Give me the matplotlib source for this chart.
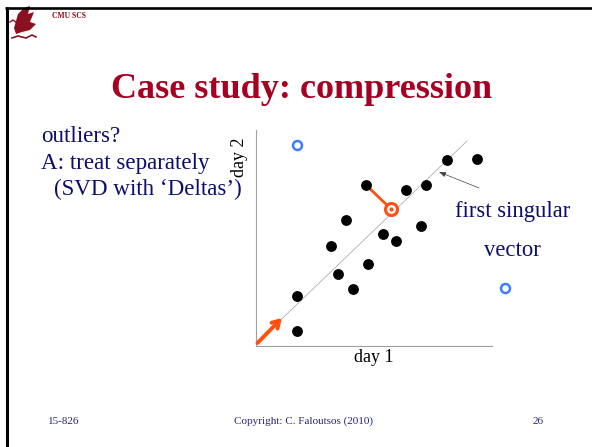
"""
    Case study: compression (slide)
"""
import matplotlib
matplotlib.use("Agg")
import matplotlib.pyplot as plt
import numpy as np

# puntos normales (day 1, day 2)
day1 = [41, 41, 97, 82, 112, 75, 127, 140, 165, 90, 150, 170, 110, 191, 221]
day2 = [15, 50, 57, 72, 82, 100, 112, 105, 120, 126, 156, 161, 161, 186, 187]

# outliers (azul)
out_x = [41, 249]
out_y = [201, 58]

# punto proyectado (naranja) y su delta
proj_x = [135]
proj_y = [137]
delta_x = [110, 135]
delta_y = [161, 137]

# primer vector singular
vec_x = [0.7, 211]
vec_y = [3, 205]

# flecha naranja (direccion) y flecha de la etiqueta
dir_start = (1.5, 3)
dir_end = (26, 28)
lbl_start = (223, 158)
lbl_end = (183, 174)

title = "Case study: compression"
bullets = ["outliers?", "A: treat separately", "(SVD with \u2018Deltas\u2019)"]
bullet_x = [41, 41, 54]
footer = ["15-826", "Copyright: C. Faloutsos (2010)", "26"]

W, H = 592, 447
serif = ["Liberation Serif", "DejaVu Serif"]
red = "#A50021"
navy = "#0D0D6B"
orange = "#FF5010"

fig = plt.figure(figsize=(W / 100, H / 100), dpi=100)

# capa de la diapositiva en pixeles
bg = fig.add_axes([0, 0, 1, 1])
bg.set_xlim(0, W)
bg.set_ylim(H, 0)
bg.axis("off")

bg.plot([5, W], [8, 8], color="black", lw=1.9, solid_capstyle="butt")
bg.plot([6.5, 6.5], [7, H], color="black", lw=2.2, solid_capstyle="butt")

# logo (aproximado)
wing = np.array([[14, 28], [18, 14], [24, 8], [30, 6], [28, 14], [34, 12], [30, 22],
                 [36, 24], [30, 30], [22, 32], [16, 34]])
bg.fill(wing[:, 0], wing[:, 1], color="#8B1020", lw=0)
bg.plot([12, 18, 26, 32, 36], [38, 36, 38, 35, 37], color="#8B1020", lw=1.2)
bg.plot([10, 13, 17], [22, 20, 23], color="#8B1020", lw=1.0)
bg.text(52, 16, "CMU SCS", color="#8B0A1A", fontsize=5.5, fontweight="bold",
        family=serif, va="center", ha="left")

bg.text(302, 89, title, color=red, fontsize=26, fontweight="bold", family=serif,
        ha="center", va="center")

for i, b in enumerate(bullets):
    bg.text(bullet_x[i], 137 + 26 * i, b, color=navy, fontsize=16.6, family=serif,
            ha="left", va="center")

bg.text(513, 212, "first singular", color=navy, fontsize=16.3, family=serif,
        ha="center", va="center")
bg.text(512, 250, "vector", color=navy, fontsize=16.3, family=serif,
        ha="center", va="center")

bg.text(48, 421, footer[0], color="#25257A", fontsize=8, family=serif, ha="left", va="center")
bg.text(304, 421, footer[1], color="#25257A", fontsize=8, family=serif, ha="center", va="center")
bg.text(544, 421, footer[2], color="#25257A", fontsize=8, family=serif, ha="right", va="center")

# grafica de dispersion
ax = fig.add_axes([256 / W, (H - 346) / H, 236 / W, 216 / H])
ax.set_xlim(0, 236)
ax.set_ylim(0, 216)
ax.patch.set_alpha(0)
ax.spines["top"].set_color("none")
ax.spines["right"].set_color("none")
ax.spines["left"].set_color("#A0A0A0")
ax.spines["bottom"].set_color("#A0A0A0")
ax.spines["left"].set_linewidth(0.8)
ax.spines["bottom"].set_linewidth(0.8)
ax.set_xticks([])
ax.set_yticks([])
ax.set_xlabel("day 1", family=serif, fontsize=13, labelpad=2)
ax.set_ylabel("day 2", family=serif, fontsize=13, labelpad=2)
ax.yaxis.set_label_coords(-0.034, 0.875)

ax.plot(vec_x, vec_y, color="#B0B0B0", lw=0.6)
ax.scatter(day1, day2, s=46, color="black", zorder=3)
ax.plot(delta_x, delta_y, color=orange, lw=2, zorder=2)
ax.scatter(proj_x, proj_y, s=75, facecolor="white", edgecolor=orange,
           linewidth=2.2, zorder=4)
ax.scatter(proj_x, proj_y, s=4, color=orange, zorder=5)
ax.scatter(out_x, out_y, s=42, facecolor="white", edgecolor="#3C7EFF",
           linewidth=1.8, zorder=4, clip_on=False)

ax.annotate("", xy=dir_end, xytext=dir_start,
            arrowprops=dict(arrowstyle="->,head_length=0.5,head_width=0.3",
                            color=orange, lw=2.8, shrinkA=0, shrinkB=0),
            annotation_clip=False)
ax.annotate("", xy=lbl_end, xytext=lbl_start,
            arrowprops=dict(arrowstyle="-|>,head_length=0.4,head_width=0.15",
                            color="#404040", lw=0.5, shrinkA=0, shrinkB=0),
            annotation_clip=False)

fig.savefig("out.png", dpi=100)
